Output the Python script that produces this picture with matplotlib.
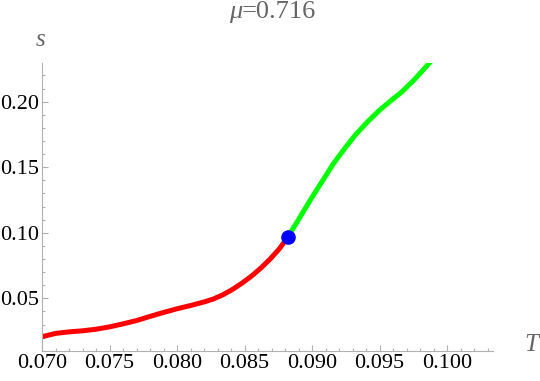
import matplotlib
matplotlib.use("Agg")
import matplotlib.pyplot as plt
from matplotlib.ticker import MultipleLocator, FormatStrFormatter

# Data
red_T = [0.0700, 0.0710, 0.0720, 0.0730, 0.0740, 0.0750, 0.0760, 0.0770, 0.0780,
         0.0790, 0.0800, 0.0810, 0.0820, 0.0827, 0.0834, 0.0841, 0.0848, 0.0855,
         0.0862, 0.0869, 0.0876, 0.0882]
red_s = [0.0207, 0.0232, 0.0244, 0.0252, 0.0264, 0.0282, 0.0305, 0.0330, 0.0362,
         0.0392, 0.0420, 0.0445, 0.0472, 0.0495, 0.0527, 0.0567, 0.0615, 0.0668,
         0.0730, 0.0800, 0.0880, 0.0967]
green_T = [0.0882, 0.0890, 0.0899, 0.0908, 0.0916, 0.0924, 0.0932, 0.0941, 0.0950,
           0.0958, 0.0966, 0.0975, 0.0983, 0.0990]
green_s = [0.0967, 0.1100, 0.1255, 0.1400, 0.1530, 0.1640, 0.1745, 0.1845, 0.1935,
           0.2005, 0.2070, 0.2160, 0.2250, 0.2330]
point_T = [0.0882]
point_s = [0.0967]
x_ticks = [0.070, 0.075, 0.080, 0.085, 0.090, 0.095, 0.100]
y_ticks = [0.05, 0.10, 0.15, 0.20]
title_sym = "μ"
title_val = "=0.716"

SERIF = 'Liberation Serif'
plt.rcParams['font.family'] = SERIF

fig = plt.figure(figsize=(5.4, 3.81), dpi=100)
ax = fig.add_axes([42/540, 30/381, (493-42)/540, (351-62.7)/381])

ax.plot(red_T, red_s, color=(1, 0, 0), lw=3.6, solid_capstyle='butt', zorder=2)
ax.plot(green_T, green_s, color=(0, 1, 0), lw=3.6, solid_capstyle='butt', zorder=2)
ax.plot(point_T, point_s, 'o', color=(0, 0, 1), ms=9.5, zorder=3)

ax.set_xlim(0.070, 0.1034)
ax.set_ylim(0.0098, 0.2297)

for side in ['top', 'right']:
    ax.spines[side].set_visible(False)
for side in ['left', 'bottom']:
    ax.spines[side].set_color('#b0b0b0')
    ax.spines[side].set_linewidth(0.8)

ax.set_xticks(x_ticks)
ax.set_yticks(y_ticks)
ax.xaxis.set_major_formatter(FormatStrFormatter('%.3f'))
ax.yaxis.set_major_formatter(FormatStrFormatter('%.2f'))
ax.xaxis.set_minor_locator(MultipleLocator(0.001))
ax.yaxis.set_minor_locator(MultipleLocator(0.01))
ax.tick_params(which='both', direction='in', color='#b0b0b0', width=0.8,
               labelsize=16, labelcolor='black', pad=2, labelfontfamily=SERIF)
ax.tick_params(which='major', length=4.5)
ax.tick_params(which='minor', length=2.5)

fig.text(531/540, 1 - 345/381, 'T', fontsize=18, style='italic', color='#666666',
         ha='center', va='center', family=SERIF)
fig.text(41/540, 1 - 40/381, 's', fontsize=18, style='italic', color='#666666',
         ha='center', va='center', family=SERIF)
fig.text(242/540, 1 - 12/381, title_sym, fontsize=19, style='italic', color='#666666',
         ha='right', va='center', family=SERIF)
fig.text(242/540, 1 - 12/381, title_val, fontsize=19, color='#666666',
         ha='left', va='center', family=SERIF)

fig.savefig('out.png', dpi=100)
